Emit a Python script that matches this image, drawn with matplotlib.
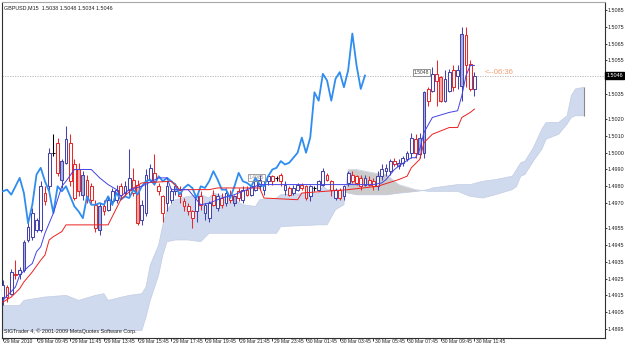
"""GBPUSD M15 candles with Ichimoku overlay, MT4 style (29-30 Mar 2010)."""
import numpy as np
import matplotlib
matplotlib.use("Agg")
import matplotlib.pyplot as plt
from matplotlib.transforms import blended_transform_factory

# ── 15-minute bars, index 0 = 29 Mar 2010 07:45 ─────────────────────────────
opens = [
    1.4914, 1.4920, 1.4916, 1.4928, 1.4928, 1.4930, 1.4948, 1.4950, 1.4954, 1.4954,
    1.4976, 1.4980, 1.5000, 1.5006, 1.4984, 1.4994, 1.5006, 1.4993, 1.4990, 1.4975,
    1.4984, 1.4980, 1.4969, 1.4954, 1.4968, 1.4966, 1.4971, 1.4972, 1.4980, 1.4976,
    1.4978, 1.4984, 1.4981, 1.4960, 1.4964, 1.4984, 1.4988, 1.4980, 1.4974, 1.4970,
    1.4972, 1.4977, 1.4978, 1.4971, 1.4968, 1.4965, 1.4965, 1.4974, 1.4964, 1.4961,
    1.4975, 1.4967, 1.4973, 1.4970, 1.4975, 1.4970, 1.4977, 1.4972, 1.4978, 1.4975,
    1.4978, 1.4980, 1.4978, 1.4983, 1.4986, 1.4985, 1.4987, 1.4978, 1.4979, 1.4976,
    1.4978, 1.4981, 1.4980, 1.4974, 1.4979, 1.4978, 1.4981, 1.4987, 1.4983, 1.4973,
    1.4978, 1.4974, 1.4982, 1.4987, 1.4986, 1.4985, 1.4981, 1.4984, 1.4983, 1.4980,
    1.4986, 1.4989, 1.4989, 1.4995, 1.4992, 1.4994, 1.4996, 1.5000, 1.5008, 1.4999,
    1.5000, 1.5038, 1.5037, 1.5047, 1.5045, 1.5031, 1.5037, 1.5049, 1.5046, 1.5040,
    1.5070, 1.5053, 1.5038,
]
highs = [
    1.4924, 1.4921, 1.4931, 1.4936, 1.4932, 1.4948, 1.4959, 1.4967, 1.4961, 1.4983,
    1.4980, 1.5003, 1.5011, 1.5009, 1.4996, 1.5016, 1.5011, 1.4996, 1.4994, 1.4989,
    1.4987, 1.4982, 1.4972, 1.4970, 1.4972, 1.4974, 1.4979, 1.4981, 1.4982, 1.4983,
    1.5002, 1.4991, 1.4984, 1.4972, 1.4990, 1.4993, 1.4999, 1.4982, 1.4975, 1.4983,
    1.4979, 1.4982, 1.4980, 1.4973, 1.4970, 1.4966, 1.4975, 1.4977, 1.4970, 1.4971,
    1.4978, 1.4976, 1.4976, 1.4979, 1.4978, 1.4975, 1.4979, 1.4980, 1.4980, 1.4981,
    1.4984, 1.4987, 1.4983, 1.4987, 1.4987, 1.4986, 1.4988, 1.4983, 1.4980, 1.4981,
    1.4982, 1.4982, 1.4981, 1.4981, 1.4980, 1.4984, 1.4991, 1.4988, 1.4984, 1.4979,
    1.4979, 1.4981, 1.4989, 1.4989, 1.4987, 1.4987, 1.4987, 1.4986, 1.4985, 1.4989,
    1.4993, 1.4993, 1.4996, 1.4997, 1.4996, 1.4998, 1.5001, 1.5012, 1.5011, 1.5012,
    1.5037, 1.5039, 1.5051, 1.5055, 1.5046, 1.5049, 1.5050, 1.5052, 1.5052, 1.5075,
    1.5075, 1.5055, 1.5048,
]
lows = [
    1.4909, 1.4911, 1.4915, 1.4925, 1.4925, 1.4929, 1.4947, 1.4948, 1.4953, 1.4953,
    1.4969, 1.4978, 1.4998, 1.4986, 1.4979, 1.4993, 1.4980, 1.4972, 1.4974, 1.4972,
    1.4970, 1.4970, 1.4953, 1.4951, 1.4963, 1.4965, 1.4969, 1.4970, 1.4973, 1.4974,
    1.4975, 1.4974, 1.4957, 1.4957, 1.4962, 1.4983, 1.4981, 1.4975, 1.4959, 1.4965,
    1.4970, 1.4975, 1.4970, 1.4965, 1.4963, 1.4955, 1.4959, 1.4966, 1.4960, 1.4959,
    1.4968, 1.4965, 1.4967, 1.4968, 1.4970, 1.4968, 1.4971, 1.4970, 1.4974, 1.4974,
    1.4977, 1.4978, 1.4975, 1.4981, 1.4981, 1.4983, 1.4980, 1.4975, 1.4974, 1.4975,
    1.4977, 1.4978, 1.4972, 1.4971, 1.4977, 1.4977, 1.4980, 1.4983, 1.4974, 1.4972,
    1.4972, 1.4972, 1.4980, 1.4982, 1.4981, 1.4978, 1.4980, 1.4980, 1.4978, 1.4978,
    1.4984, 1.4986, 1.4987, 1.4992, 1.4990, 1.4992, 1.4995, 1.4997, 1.4997, 1.4997,
    1.4997, 1.5028, 1.5036, 1.5028, 1.5030, 1.5030, 1.5036, 1.5037, 1.5038, 1.5031,
    1.5039, 1.5037, 1.5034,
]
closes = [
    1.4921, 1.4914, 1.4929, 1.4927, 1.4930, 1.4947, 1.4956, 1.4964, 1.4960, 1.4980,
    1.4971, 1.5000, 1.5000, 1.4988, 1.4995, 1.5008, 1.4983, 1.4973, 1.4977, 1.4987,
    1.4973, 1.4972, 1.4955, 1.4968, 1.4965, 1.4972, 1.4977, 1.4978, 1.4975, 1.4980,
    1.4985, 1.4976, 1.4958, 1.4969, 1.4987, 1.4991, 1.4983, 1.4977, 1.4964, 1.4980,
    1.4977, 1.4980, 1.4974, 1.4968, 1.4965, 1.4961, 1.4974, 1.4969, 1.4969, 1.4970,
    1.4969, 1.4974, 1.4969, 1.4976, 1.4972, 1.4974, 1.4973, 1.4978, 1.4975, 1.4980,
    1.4983, 1.4984, 1.4981, 1.4986, 1.4983, 1.4985, 1.4983, 1.4981, 1.4975, 1.4979,
    1.4981, 1.4979, 1.4973, 1.4980, 1.4979, 1.4983, 1.4989, 1.4984, 1.4978, 1.4978,
    1.4973, 1.4980, 1.4988, 1.4983, 1.4982, 1.4980, 1.4985, 1.4981, 1.4980, 1.4986,
    1.4990, 1.4991, 1.4995, 1.4993, 1.4994, 1.4997, 1.5000, 1.5009, 1.5000, 1.5009,
    1.5036, 1.5031, 1.5047, 1.5043, 1.5031, 1.5044, 1.5048, 1.5039, 1.5049, 1.5071,
    1.5052, 1.5038, 1.5046,
]
# bars whose body shows a tinted fill in the screenshot
shaded = [5, 14, 18, 19, 23, 32, 41, 55, 94, 99, 100, 104, 109]

# ── Ichimoku lines as (bar index, price) vertices ──────────────────────────
tenkan_x = [0, 3, 4, 6, 7, 8, 9, 10, 11, 12, 14, 15, 17, 21, 23, 25, 27, 28, 30,
            33, 37, 39, 40, 44, 47, 49, 52, 55, 57, 59, 61, 88, 90, 91, 93, 94,
            97, 98, 99, 100, 102, 106, 108, 109, 110, 111, 112]
tenkan = [1.4912, 1.4920, 1.4927, 1.4932, 1.4934, 1.4941, 1.4944, 1.4952, 1.4958,
          1.4964, 1.4980, 1.4983, 1.4990, 1.4990, 1.4985, 1.4981, 1.4978, 1.4974,
          1.4978, 1.4980, 1.4985, 1.4985, 1.4978, 1.4978, 1.4969, 1.4970, 1.4973,
          1.4975, 1.4977, 1.4979, 1.4981, 1.4981, 1.4982, 1.4984, 1.4990, 1.4992,
          1.4997, 1.4997, 1.5002, 1.5012, 1.5021, 1.5024, 1.5025, 1.5034, 1.5046,
          1.5052, 1.5052]
kijun_x = [0, 2, 4, 5, 7, 9, 10, 11, 12, 14, 15, 25, 26, 27, 28, 31, 33, 40, 42,
           49, 51, 61, 62, 70, 71, 82, 89, 94, 96, 97, 99, 100, 102, 106, 108,
           109, 111, 112]
kijun = [1.4911, 1.4914, 1.4919, 1.4923, 1.4929, 1.4936, 1.4939, 1.4948, 1.4950,
         1.4953, 1.4957, 1.4957, 1.4962, 1.4967, 1.4972, 1.4979, 1.4982, 1.4983,
         1.4978, 1.4978, 1.4979, 1.4979, 1.4973, 1.4972, 1.4976, 1.4978, 1.4980,
         1.4984, 1.4986, 1.4991, 1.4996, 1.5006, 1.5011, 1.5015, 1.5015, 1.5021,
         1.5024, 1.5026]

# Senkou spans A / B (already shifted 26 bars ahead)
cloud_x = [0, 4, 5, 10, 15, 18, 22, 24, 25, 30, 33, 34, 35, 37, 38, 39, 41, 44,
           47, 49, 50, 55, 57, 60, 61, 65, 66, 75, 76, 77, 79, 81, 82, 84, 88, 91,
           94, 98, 101, 102, 108, 111, 114, 117, 121, 122, 123, 124, 126, 128, 129,
           132, 134, 135, 136, 138]
span_a = [1.4909, 1.4909, 1.4912, 1.4914, 1.4915, 1.4912, 1.4915, 1.4916, 1.4912,
          1.4915, 1.4916, 1.4920, 1.4933, 1.4945, 1.4957, 1.4966, 1.4972, 1.4974,
          1.4975, 1.4973, 1.4976, 1.4972, 1.4969, 1.4968, 1.4972, 1.4973, 1.4975,
          1.4976, 1.4980, 1.4978, 1.4978, 1.4977, 1.4976, 1.4975, 1.4975, 1.4975,
          1.4976, 1.4977, 1.4978, 1.4979, 1.4981, 1.4981, 1.4983, 1.4984, 1.4986,
          1.4990, 1.4994, 1.4995, 1.5003, 1.5014, 1.5018, 1.5018, 1.5022, 1.5034,
          1.5038, 1.5039]
span_b = [1.4894, 1.4894, 1.4894, 1.4894, 1.4894, 1.4894, 1.4894, 1.4894, 1.4894,
          1.4894, 1.4894, 1.4902, 1.4912, 1.4927, 1.4939, 1.4947, 1.4948, 1.4948,
          1.4947, 1.4952, 1.4952, 1.4952, 1.4952, 1.4952, 1.4952, 1.4952, 1.4956,
          1.4957, 1.4957, 1.4957, 1.4966, 1.4969, 1.4990, 1.4990, 1.4988, 1.4987,
          1.4981, 1.4978, 1.4977, 1.4977, 1.4977, 1.4974, 1.4973, 1.4975, 1.4978,
          1.4980, 1.4986, 1.4987, 1.4995, 1.5002, 1.5008, 1.5011, 1.5017, 1.5021,
          1.5022, 1.5022]

time_ticks = [0, 8, 16, 24, 32, 40, 48, 56, 64, 72, 80, 88, 96, 104, 112]
time_labels = ["29 Mar 2010", "29 Mar 09:45", "29 Mar 11:45", "29 Mar 13:45",
               "29 Mar 15:45", "29 Mar 17:45", "29 Mar 19:45", "29 Mar 21:45",
               "29 Mar 23:45", "30 Mar 01:45", "30 Mar 03:45", "30 Mar 05:45",
               "30 Mar 07:45", "30 Mar 09:45", "30 Mar 11:45"]
price_ticks = [1.5085, 1.5075, 1.5065, 1.5055, 1.5035, 1.5020, 1.5010, 1.5000,
               1.4990, 1.4980, 1.4970, 1.4955, 1.4945, 1.4935, 1.4925, 1.4915,
               1.4905, 1.4895]

SMALL = ["Liberation Sans", "DejaVu Sans"]
BULL = "#4444aa"
BEAR = "#e42a2a"
FS = 3.9


def main() -> None:
    plt.rcParams["font.family"] = SMALL
    fig = plt.figure(figsize=(6.25, 3.47), dpi=100)
    ax = fig.add_axes([2 / 625, 9 / 347, 603 / 625, 336 / 347])
    ax.set_xlim(-0.2, 143.0)
    ax.set_ylim(1.48896, 1.50898)

    # ── kumo ────────────────────────────────────────────────────────
    cx = np.array(cloud_x, float)
    sa, sb = np.array(span_a), np.array(span_b)
    ax.fill_between(cx, sa, sb, where=sa >= sb, interpolate=True,
                    color="#cfdaef", lw=0, zorder=1)
    ax.fill_between(cx, sa, sb, where=sa < sb, interpolate=True,
                    color="#cbcbcb", lw=0, zorder=1)
    ax.plot(cx, sa, color="#c3cde2", lw=0.5, zorder=1)
    ax.plot(cx, sb, color="#c3cde2", lw=0.5, zorder=1)
    ax.vlines(cloud_x[-1], span_b[-1], span_a[-1], color="#8a8a8a", lw=0.8, zorder=1)

    # bid line
    ax.axhline(closes[-1], color="#b0b0b0", lw=0.6, ls=(0, (1.5, 1.5)), zorder=2)

    # ── candles ─────────────────────────────────────────────────────
    o, h, l, c = (np.array(v) for v in (opens, highs, lows, closes))
    idx = np.arange(len(o))
    edge = np.where(c > o, BULL, np.where(c < o, BEAR, "black"))
    face = []
    for i in idx:
        if i in shaded:
            face.append("#a9b3db" if c[i] > o[i] else "#f5a8a8")
        else:
            face.append("white")
    ax.vlines(idx, l, h, colors=edge, lw=0.75, zorder=3)
    ax.bar(idx, c - o, bottom=o, width=0.66, color=face, edgecolor=edge,
           linewidth=0.75, zorder=4)

    # ── Ichimoku lines ──────────────────────────────────────────────
    lag = 26
    ax.plot(idx[:-lag], c[lag:], color="#2f8def", lw=1.3, zorder=5)
    ax.plot(kijun_x, kijun, color="#ee2020", lw=0.7, zorder=5)
    ax.plot(tenkan_x, tenkan, color="#4343e6", lw=0.7, zorder=5)

    # ── axes cosmetics ──────────────────────────────────────────────
    for side, col in (("left", "#303030"), ("right", "#303030"),
                      ("bottom", "#303030"), ("top", "#a8a8a8")):
        ax.spines[side].set_color(col)
        ax.spines[side].set_linewidth(0.8)

    ax.yaxis.tick_right()
    ax.set_yticks(price_ticks)
    ax.set_yticklabels([f"{p:.4f}" for p in price_ticks])
    ax.tick_params(axis="y", direction="out", length=1.6, width=0.6,
                   pad=0.6, labelsize=FS, colors="#202020")

    ax.set_xticks(time_ticks)
    ax.set_xticklabels([])
    ax.tick_params(axis="x", direction="out", length=1.8, width=0.6, colors="#202020")
    for t, lab in zip(time_ticks, time_labels):
        ax.annotate(lab, xy=(t, 0), xycoords=("data", "axes fraction"),
                    xytext=(1.0, -1.0), textcoords="offset points",
                    ha="left", va="top", fontsize=3.6, color="#202020",
                    annotation_clip=False)

    trans = blended_transform_factory(ax.transAxes, ax.transData)
    ax.text(1.002, closes[-1], f"{closes[-1]:.4f}", transform=trans,
            ha="left", va="center", fontsize=FS, color="white", clip_on=False,
            bbox=dict(boxstyle="square,pad=0.25", fc="black", ec="black"))

    # small price labels / countdown
    ax.text(114.3, 1.5048, "<--06:36", ha="left", va="center",
            fontsize=5.6, color="#f0a070", zorder=6)
    ax.text(97.6, 1.5048, "1.5048", ha="left", va="center", fontsize=3.6,
            color="#404040", zorder=6,
            bbox=dict(boxstyle="square,pad=0.2", fc="white", ec="#808080", lw=0.6))
    ax.text(58.4, 1.4985, "1.4985", ha="left", va="center", fontsize=3.6,
            color="#909090", zorder=6,
            bbox=dict(boxstyle="square,pad=0.2", fc="none", ec="#909090", lw=0.6))

    header = f"GBPUSD,M15  {opens[-1]:.4f} {highs[-1]:.4f} {lows[-1]:.4f} {closes[-1]:.4f}"
    ax.text(0.004, 0.991, header, transform=ax.transAxes, ha="left", va="top",
            fontsize=FS, color="#202020")
    ax.text(0.004, 0.012, "SIGTrader 4, \u00a9 2001-2009 MetaQuotes Software Corp.",
            transform=ax.transAxes, ha="left", va="bottom", fontsize=FS,
            color="#202020", zorder=6)

    fig.savefig("out.png", dpi=100, facecolor="white")


if __name__ == "__main__":
    main()
